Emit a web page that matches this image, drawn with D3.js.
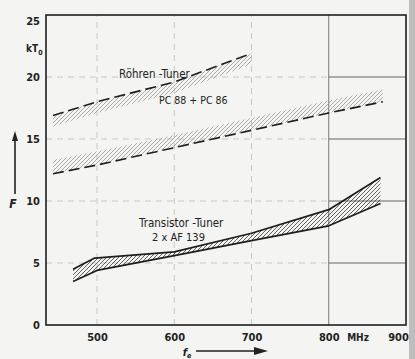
<!DOCTYPE html>
<html>
<head>
<meta charset="utf-8">
<script src="https://cdn.jsdelivr.net/npm/d3@7"></script>
<style>
  body { margin: 0; background: #f4f4f2; }
  svg { display: block; }
  text { font-family: "DejaVu Sans Condensed", "Liberation Sans Narrow", sans-serif; fill: #222; }
</style>
</head>
<body>
<svg id="chart"></svg>
<script>
// x ticks (MHz) and y ticks (kT0)
const freqTicks = [500, 600, 700, 800, 900];
const noiseTicks = [0, 5, 10, 15, 20, 25];

// Röhren-Tuner: dashed upper edge, hatched strip below it
const tubeTop = [[443, 16.9], [500, 18.0], [600, 19.6], [700, 21.9]];
const tubeBottom = [[443, 16.0], [500, 17.1], [600, 18.7], [700, 21.0]];

// PC 88 + PC 86: dashed lower edge, hatched strip above it
const pcBottom = [[443, 12.2], [500, 12.9], [600, 14.3], [700, 15.7], [800, 17.1], [870, 18.0]];
const pcTop = [[443, 13.3], [500, 14.0], [600, 15.3], [700, 16.7], [800, 18.1], [870, 19.0]];

// Transistor-Tuner 2 x AF 139: two solid edges, hatched between
const trTop = [[469, 4.5], [497, 5.4], [600, 5.9], [700, 7.4], [800, 9.3], [867, 11.9]];
const trBottom = [[469, 3.5], [500, 4.4], [600, 5.6], [700, 6.8], [800, 8.0], [867, 9.8]];

const W = 415, H = 359;
const svg = d3.select("#chart").attr("width", W).attr("height", H);

// scanned paper edge on the right
svg.append("rect").attr("x", 409).attr("y", 0).attr("width", 6).attr("height", H).attr("fill", "#bdbdbb");

const x = d3.scaleLinear().domain([434, 900]).range([46, 406]);
const y = d3.scaleLinear().domain([0, 25]).range([325, 15]);

const defs = svg.append("defs");
function hatch(id, color, width) {
  const p = defs.append("pattern")
    .attr("id", id)
    .attr("patternUnits", "userSpaceOnUse")
    .attr("width", 4).attr("height", 4);
  p.append("path")
    .attr("d", "M-1,1 L1,-1 M0,4 L4,0 M3,5 L5,3")
    .attr("stroke", color).attr("stroke-width", width);
}
hatch("hatchLight", "#a2a2a0", 0.9);
hatch("hatchDark", "#3a3a3a", 0.8);

// grid
const grid = svg.append("g");
[5, 10, 15, 20].forEach(v => {
  grid.append("line")
    .attr("x1", x(434)).attr("x2", x(800)).attr("y1", y(v)).attr("y2", y(v))
    .attr("stroke", "#c6c6c4").attr("stroke-width", 1).attr("stroke-dasharray", "6,5");
  grid.append("line")
    .attr("x1", x(800)).attr("x2", x(900)).attr("y1", y(v)).attr("y2", y(v))
    .attr("stroke", "#666").attr("stroke-width", 1);
});
[500, 600, 700].forEach(v => {
  grid.append("line")
    .attr("x1", x(v)).attr("x2", x(v)).attr("y1", y(0)).attr("y2", y(25))
    .attr("stroke", "#c6c6c4").attr("stroke-width", 1).attr("stroke-dasharray", "6,5");
});
grid.append("line")
  .attr("x1", x(800)).attr("x2", x(800)).attr("y1", y(0)).attr("y2", y(25))
  .attr("stroke", "#777").attr("stroke-width", 1);

const line = d3.line().x(d => x(d[0])).y(d => y(d[1]));
const band = (top, bottom) => line(top) + "L" + bottom.slice().reverse().map(d => x(d[0]) + "," + y(d[1])).join("L") + "Z";

// hatched bands
svg.append("path").attr("d", band(tubeTop, tubeBottom)).attr("fill", "url(#hatchLight)");
svg.append("path").attr("d", band(pcTop, pcBottom)).attr("fill", "url(#hatchLight)");
svg.append("path").attr("d", band(trTop, trBottom)).attr("fill", "url(#hatchDark)");

// edges
svg.append("path").attr("d", line(tubeTop)).attr("fill", "none")
  .attr("stroke", "#1e1e1e").attr("stroke-width", 1.6).attr("stroke-dasharray", "11,5");
svg.append("path").attr("d", line(pcBottom)).attr("fill", "none")
  .attr("stroke", "#1e1e1e").attr("stroke-width", 1.6).attr("stroke-dasharray", "11,5");
[trTop, trBottom].forEach(s => {
  svg.append("path").attr("d", line(s)).attr("fill", "none")
    .attr("stroke", "#1e1e1e").attr("stroke-width", 1.7).attr("stroke-linejoin", "round");
});

// frame
svg.append("rect")
  .attr("x", x(434)).attr("y", y(25))
  .attr("width", x(900) - x(434)).attr("height", y(0) - y(25))
  .attr("fill", "none").attr("stroke", "#1e1e1e").attr("stroke-width", 1.6);

// axes
const xAxis = svg.append("g").attr("transform", `translate(0,${y(0)})`)
  .call(d3.axisBottom(x).tickValues(freqTicks).tickSize(0).tickPadding(8));
xAxis.select(".domain").remove();
xAxis.selectAll("text")
  .style("font-size", "11px").style("font-weight", "bold")
  .attr("dx", d => d === 900 ? -8 : 0);

const yAxis = svg.append("g").attr("transform", `translate(${x(434)},0)`)
  .call(d3.axisLeft(y).tickValues(noiseTicks).tickSize(0).tickPadding(6));
yAxis.select(".domain").remove();
yAxis.selectAll("text")
  .style("font-size", "11px").style("font-weight", "bold")
  .attr("dy", d => d === 25 ? "0.85em" : "0.32em");

svg.append("text").attr("x", 358).attr("y", 341).attr("text-anchor", "middle")
  .style("font-size", "10px").style("font-weight", "bold").text("MHz");

// unit kT0
const unit = svg.append("text").attr("x", 26).attr("y", 52).style("font-size", "10px").style("font-weight", "bold");
unit.append("tspan").text("kT");
unit.append("tspan").attr("dy", 3).style("font-size", "7px").text("0");

// y title with arrow
svg.append("line").attr("x1", 15).attr("x2", 15).attr("y1", 194).attr("y2", 134)
  .attr("stroke", "#222").attr("stroke-width", 1.6);
svg.append("path").attr("d", "M15,131 L12,141 L18,141 Z").attr("fill", "#222");
svg.append("text").attr("x", 13).attr("y", 208).attr("text-anchor", "middle")
  .style("font-size", "12px").style("font-style", "italic").style("font-weight", "bold").text("F");

// x title with arrow
const xt = svg.append("text").attr("x", 187).attr("y", 356).attr("text-anchor", "middle")
  .style("font-size", "11px").style("font-style", "italic").style("font-weight", "bold");
xt.append("tspan").text("f");
xt.append("tspan").attr("dy", 2).style("font-size", "7px").text("e");
svg.append("line").attr("x1", 196).attr("x2", 258).attr("y1", 351).attr("y2", 351)
  .attr("stroke", "#222").attr("stroke-width", 1.4);
svg.append("path").attr("d", "M268,351 L254,347 L254,355 Z").attr("fill", "#222");

// curve labels
const lab = (t, px, py, fs) => svg.append("text").attr("x", px).attr("y", py)
  .style("font-size", fs + "px").text(t);
lab("Röhren -Tuner", 119, 78, 11.5);
lab("PC 88 + PC 86", 159, 104, 10.5);
lab("Transistor -Tuner", 139, 227, 11.5);
lab("2 x AF 139", 152, 241, 11);
</script>
</body>
</html>
